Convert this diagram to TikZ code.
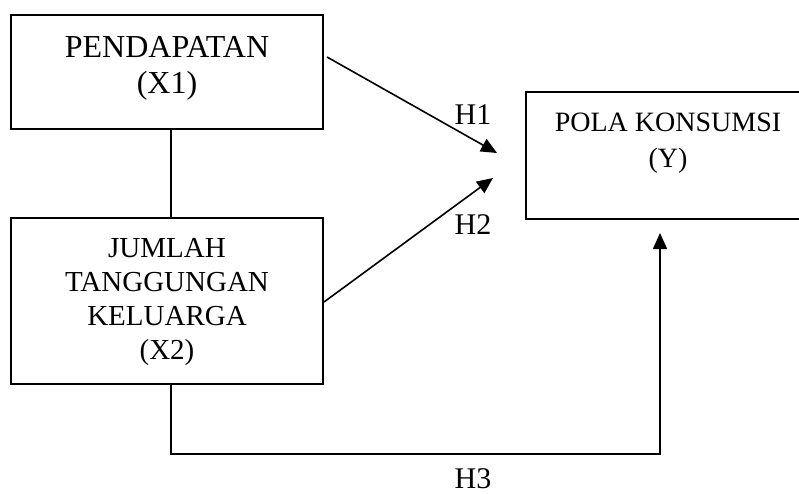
\documentclass[tikz,border=0pt]{standalone}
\usepackage{fontspec}
\setmainfont{Liberation Serif}
\usetikzlibrary{arrows.meta}
\begin{document}
\begin{tikzpicture}[x=1pt,y=-1pt,
  box/.style={draw,line width=1.6pt,rectangle,inner sep=0pt},
  txt/.style={align=center,inner sep=0pt},
  lbl/.style={font=\fontsize{30}{36}\selectfont,inner sep=0pt},
  conn/.style={line width=1.6pt},
  arr/.style={line width=1.6pt,-{Triangle[length=16pt,width=14pt]}}]
\useasboundingbox (0,0) rectangle (799,494);
\begin{scope}
\clip (0,0) rectangle (799,494);
\node[box,minimum width=312pt,minimum height=114pt] (x1) at (167,72) {};
\node[box,minimum width=312pt,minimum height=166pt] (x2) at (167,301) {};
\node[box,minimum width=284pt,minimum height=127pt] (y) at (668,155.5) {};
\end{scope}
\node[txt,font=\fontsize{32}{36}\selectfont] (tx1) at (167,68) {PENDAPATAN\\(X1)};
\node[txt,font=\fontsize{29}{34}\selectfont] (tx2) at (167,302) {JUMLAH\\TANGGUNGAN\\KELUARGA\\(X2)};
\node[txt,font=\fontsize{28}{36}\selectfont] (ty) at (668,143) {POLA KONSUMSI\\(Y)};
\coordinate (h1s) at (327,57);
\coordinate (h1e) at (497,153);
\coordinate (h2s) at (324,302);
\coordinate (h2e) at (493,178);
\coordinate (h3e) at (660,233);
\draw[conn] ([xshift=4pt]x1.south) -- ([xshift=4pt]x2.north);
\draw[arr] (h1s) -- (h1e);
\draw[arr] (h2s) -- (h2e);
\draw[arr] ([xshift=4pt]x2.south) |- (h3e |- 0,454) -- (h3e);
\node[lbl] (l1) at (473,115) {H1};
\node[lbl] (l2) at (473,225) {H2};
\node[lbl] (l3) at (473,479) {H3};
\end{tikzpicture}
\end{document}
